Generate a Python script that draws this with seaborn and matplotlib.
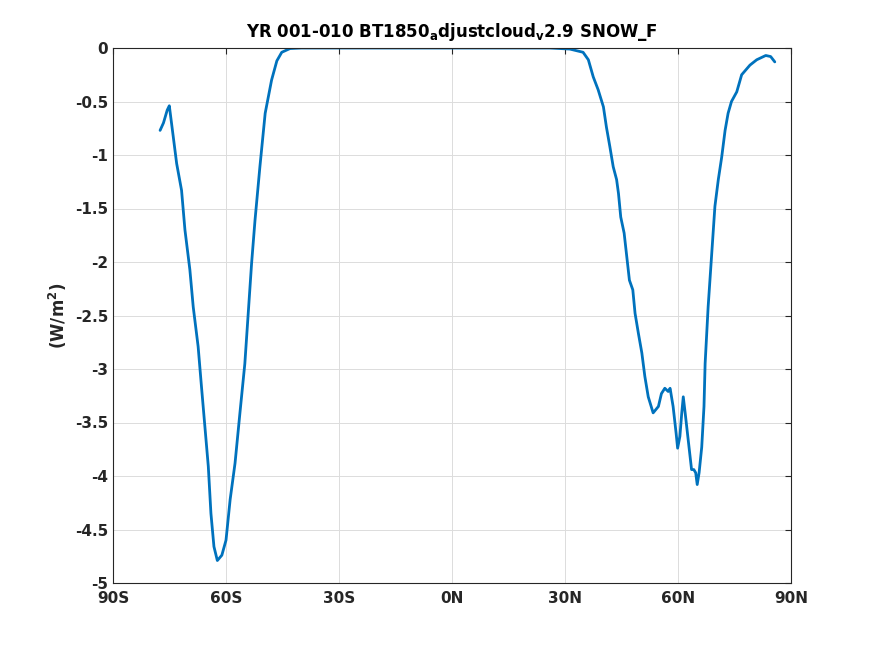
import numpy as np
import pandas as pd
import matplotlib
matplotlib.use("Agg")
import matplotlib.pyplot as plt
import seaborn as sns

# latitude (deg) and SNOW_F forcing (W/m^2)
lat = [-77.5, -76.6, -75.6, -75.05, -74.0, -73.1, -71.8, -70.9, -69.6, -68.7,
       -67.4, -66.5, -65.6, -64.7, -64.0, -63.2, -62.3, -61.1, -60.0, -58.9,
       -57.6, -56.3, -55.0, -54.1, -53.2, -52.3, -51.0, -49.6, -47.9, -46.5,
       -45.2, -43.0, -40.0, -30.0, -20.0, -10.0, 0.0, 10.0, 20.0, 26.0,
       31.3, 34.8, 36.2, 37.5, 38.8, 40.2, 41.0, 41.9, 42.8, 43.7,
       44.2, 44.8, 45.7, 46.4, 47.1, 48.0, 48.6, 49.5, 50.4, 51.2,
       52.1, 53.4, 54.8, 55.6, 56.5, 57.4, 57.9, 58.7, 59.5, 59.9,
       60.5, 61.0, 61.4, 61.9, 62.7, 63.6, 64.2, 64.7, 65.1, 65.6,
       66.3, 66.9, 67.2, 68.0, 68.9, 69.8, 70.7, 71.6, 72.5, 73.3,
       74.2, 75.6, 76.9, 79.1, 80.9, 83.3, 84.6, 85.7]
snow_f = [-0.77, -0.70, -0.58, -0.54, -0.83, -1.08, -1.33, -1.70, -2.07, -2.42,
          -2.79, -3.17, -3.54, -3.91, -4.35, -4.66, -4.79, -4.74, -4.60, -4.22,
          -3.88, -3.41, -2.95, -2.48, -2.01, -1.61, -1.11, -0.61, -0.30, -0.12,
          -0.04, -0.005, 0.0, 0.0, 0.0, 0.0, 0.0, 0.0, 0.0, 0.0,
          -0.01, -0.04, -0.11, -0.27, -0.39, -0.55, -0.74, -0.92, -1.11, -1.23,
          -1.36, -1.58, -1.73, -1.95, -2.17, -2.26, -2.48, -2.67, -2.85, -3.07,
          -3.26, -3.41, -3.35, -3.23, -3.18, -3.21, -3.18, -3.35, -3.60, -3.74,
          -3.63, -3.41, -3.26, -3.41, -3.66, -3.94, -3.94, -3.97, -4.08, -3.97,
          -3.73, -3.35, -2.95, -2.42, -1.95, -1.48, -1.23, -1.02, -0.77, -0.61,
          -0.50, -0.41, -0.25, -0.16, -0.11, -0.07, -0.08, -0.13]

xticks = [-90, -60, -30, 0, 30, 60, 90]
xlabels = ["90S", "60S", "30S", "0N", "30N", "60N", "90N"]
yticks = [-5, -4.5, -4, -3.5, -3, -2.5, -2, -1.5, -1, -0.5, 0]
ylabels = ["-5", "-4.5", "-4", "-3.5", "-3", "-2.5", "-2", "-1.5", "-1", "-0.5", "0"]

df = pd.DataFrame({"lat": lat, "snow_f": snow_f})

sns.set_style("white")
plt.rcParams["font.family"] = ["DejaVu Sans"]
plt.rcParams["font.weight"] = "bold"

fig = plt.figure(figsize=(8.75, 6.56), dpi=100)
ax = fig.add_axes([113 / 875, 1 - 583 / 656, 678 / 875, 535 / 656])

sns.lineplot(data=df, x="lat", y="snow_f", ax=ax, color="#0072BD", linewidth=2.0)

ax.set_xlim(-90, 90)
ax.set_ylim(-5, 0)
ax.set_xticks(xticks)
ax.set_xticklabels(xlabels, fontsize=11, fontweight="bold")
ax.set_yticks(yticks)
ax.set_yticklabels(ylabels, fontsize=11, fontweight="bold")
ax.tick_params(direction="in", length=4, width=0.8, top=True, right=True, colors="#262626")
ax.tick_params(axis="x", pad=6)
ax.grid(True, color="#dcdcdc", linewidth=0.7)
for s in ax.spines.values():
    s.set_color("#262626")
    s.set_linewidth(0.8)

ax.set_xlabel("")
ax.set_ylabel("(W/m$^\\mathbf{2}$)", fontsize=12, fontweight="bold")
ax.set_title("YR 001-010 BT1850$_\\mathbf{a}$djustcloud$_\\mathbf{v}$2.9 SNOW_F",
             fontsize=12, fontweight="bold", pad=8, color="black")

fig.savefig("out.png", dpi=100)
